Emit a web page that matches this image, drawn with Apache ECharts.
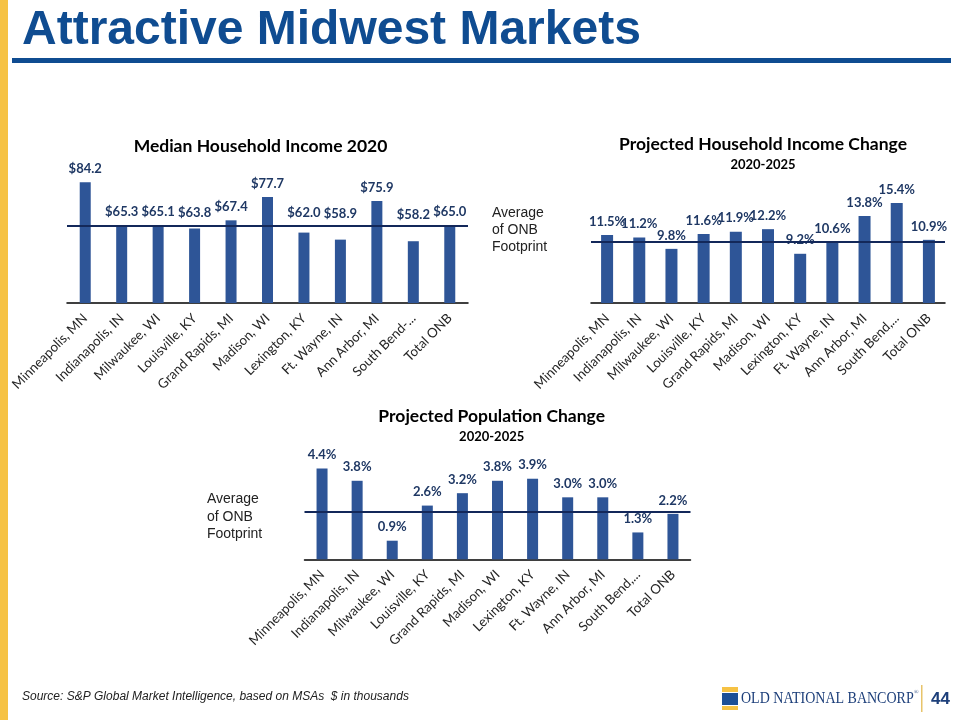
<!DOCTYPE html>
<html><head><meta charset="utf-8">
<script src="https://cdn.jsdelivr.net/npm/echarts@6/dist/echarts.min.js"></script>
<style>html,body{margin:0;padding:0;background:#fff}#c{width:960px;height:720px}</style>
</head><body><div id="c"></div>
<script>
// ---- data ----
const incomeCategories = ["Minneapolis, MN","Indianapolis, IN","Milwaukee, WI","Louisville, KY","Grand Rapids, MI","Madison, WI","Lexington, KY","Ft. Wayne, IN","Ann Arbor, MI","South Bend-...","Total ONB"];
const changeCategories = ["Minneapolis, MN","Indianapolis, IN","Milwaukee, WI","Louisville, KY","Grand Rapids, MI","Madison, WI","Lexington, KY","Ft. Wayne, IN","Ann Arbor, MI","South Bend,...","Total ONB"];
const medianIncome = [84.2,65.3,65.1,63.8,67.4,77.7,62.0,58.9,75.9,58.2,65.0];
const incomeChange = [11.5,11.2,9.8,11.6,11.9,12.2,9.2,10.6,13.8,15.4,10.9];
const populationChange = [4.4,3.8,0.9,2.6,3.2,3.8,3.9,3.0,3.0,1.3,2.2];
const footprintAverages = [65.1,10.7,2.3];
const chartTitles = ["Median Household Income 2020","Projected Household Income Change","Projected Population Change"];
const chartSubtitles = ["","2020-2025","2020-2025"];

// ---- style ----
const BAR = '#2E5597', LINE = '#13285A', LABEL = '#1F3864';
const FONT = 'Lato, "Noto Sans", sans-serif';
const grids = [
  {left:67, top:169, width:401, height:134},
  {left:591, top:198, width:354, height:105},
  {left:304.5, top:456, width:386, height:103.3}
];
const yRanges = [[31,90],[3.2,16],[0,5]];
const barWidths = [11,12,11];
const cats = [incomeCategories, changeCategories, changeCategories];
const values = [medianIncome, incomeChange, populationChange];
const fmts = [v => '$' + v.toFixed(1), v => v.toFixed(1) + '%', v => v.toFixed(1) + '%'];

const xAxis = cats.map((c,i) => ({
  type:'category', gridIndex:i, data:c,
  axisTick:{show:false},
  axisLine:{lineStyle:{color:'#000', width:1.5}},
  axisLabel:{rotate:45, interval:0, fontSize:13.3, color:'#262626', fontFamily:FONT, margin:13}
}));
const yAxis = yRanges.map((r,i) => ({
  type:'value', gridIndex:i, min:r[0], max:r[1],
  axisLine:{show:false}, axisTick:{show:false}, axisLabel:{show:false}, splitLine:{show:false}
}));
const series = values.map((vals,i) => {
  const ppu = grids[i].height / (yRanges[i][1]-yRanges[i][0]);
  const avg = footprintAverages[i];
  return {
    type:'bar', xAxisIndex:i, yAxisIndex:i, barWidth:barWidths[i],
    itemStyle:{color:BAR},
    data: vals.map(v => {
      const d = {value:v};
      if (i === 0 && v < avg) d.label = {distance: 7 + (avg - v) * ppu * 0.85};
      return d;
    }),
    label:{show:true, position:'top', distance:7, formatter:p => fmts[i](p.value),
      fontWeight:'bold', fontSize:13, color:LABEL, fontFamily:FONT},
    markLine:{silent:true, symbol:'none', label:{show:false}, z:10,
      lineStyle:{color:LINE, width:2, type:'solid', opacity:1},
      data:[{yAxis:avg}]}
  };
});

const titlePos = [[260.5,146],[763,144],[491.7,416]];
const graphic = [
  {type:'rect', shape:{x:0,y:0,width:8,height:720}, style:{fill:'#F6C244'}},
  {type:'text', x:22, y:31, style:{text:'Attractive Midwest Markets', font:'bold 48px "Liberation Sans", Arial, sans-serif', fill:'#0F4C91', textVerticalAlign:'middle'}},
  {type:'rect', shape:{x:12,y:58,width:939,height:5}, style:{fill:'#0F4C91'}},
  {type:'text', x:22, y:697, style:{text:'Source: S&P Global Market Intelligence, based on MSAs  $ in thousands', font:'italic 12px "Liberation Sans", Arial, sans-serif', fill:'#222', textVerticalAlign:'middle'}},
  // logo
  {type:'rect', shape:{x:722,y:687,width:16,height:5}, style:{fill:'#F6C244'}},
  {type:'rect', shape:{x:722,y:693,width:16,height:12}, style:{fill:'#1D4F96'}},
  {type:'rect', shape:{x:722,y:706,width:16,height:4}, style:{fill:'#F6C244'}},
  {type:'text', x:741, y:699, scaleX:0.875, style:{text:'OLD NATIONAL BANCORP', font:'16px "Liberation Serif", "Times New Roman", serif', fill:'#1D3F7A', textVerticalAlign:'middle'}},
  {type:'text', x:914, y:692, style:{text:'®', font:'6px "Liberation Serif", serif', fill:'#1D3F7A', textVerticalAlign:'middle'}},
  {type:'rect', shape:{x:921,y:685,width:1.5,height:27}, style:{fill:'#E8C46A'}},
  {type:'text', x:931, y:699, style:{text:'44', font:'bold 17px "Liberation Sans", Arial, sans-serif', fill:'#1D3F7A', textVerticalAlign:'middle'}},
  // "Average of ONB Footprint"
  {type:'text', x:492, y:230, style:{text:'Average\nof ONB\nFootprint', font:'14px "Liberation Sans", Arial, sans-serif', lineHeight:17.3, fill:'#222', textVerticalAlign:'middle'}},
  {type:'text', x:207, y:517, style:{text:'Average\nof ONB\nFootprint', font:'14px "Liberation Sans", Arial, sans-serif', lineHeight:17.5, fill:'#222', textVerticalAlign:'middle'}}
];
titlePos.forEach((p,i) => {
  graphic.push({type:'text', x:p[0], y:p[1], style:{text:chartTitles[i], font:'bold 17.5px ' + FONT, fill:'#000', textAlign:'center', textVerticalAlign:'middle'}});
  if (chartSubtitles[i]) graphic.push({type:'text', x:p[0], y:p[1]+20.5, style:{text:chartSubtitles[i], font:'bold 13px ' + FONT, fill:'#000', textAlign:'center', textVerticalAlign:'middle'}});
});

const chart = echarts.init(document.getElementById('c'), null, {renderer:'canvas'});
chart.setOption({animation:false, backgroundColor:'#fff', grid:grids, xAxis, yAxis, series, graphic});
</script></body></html>
